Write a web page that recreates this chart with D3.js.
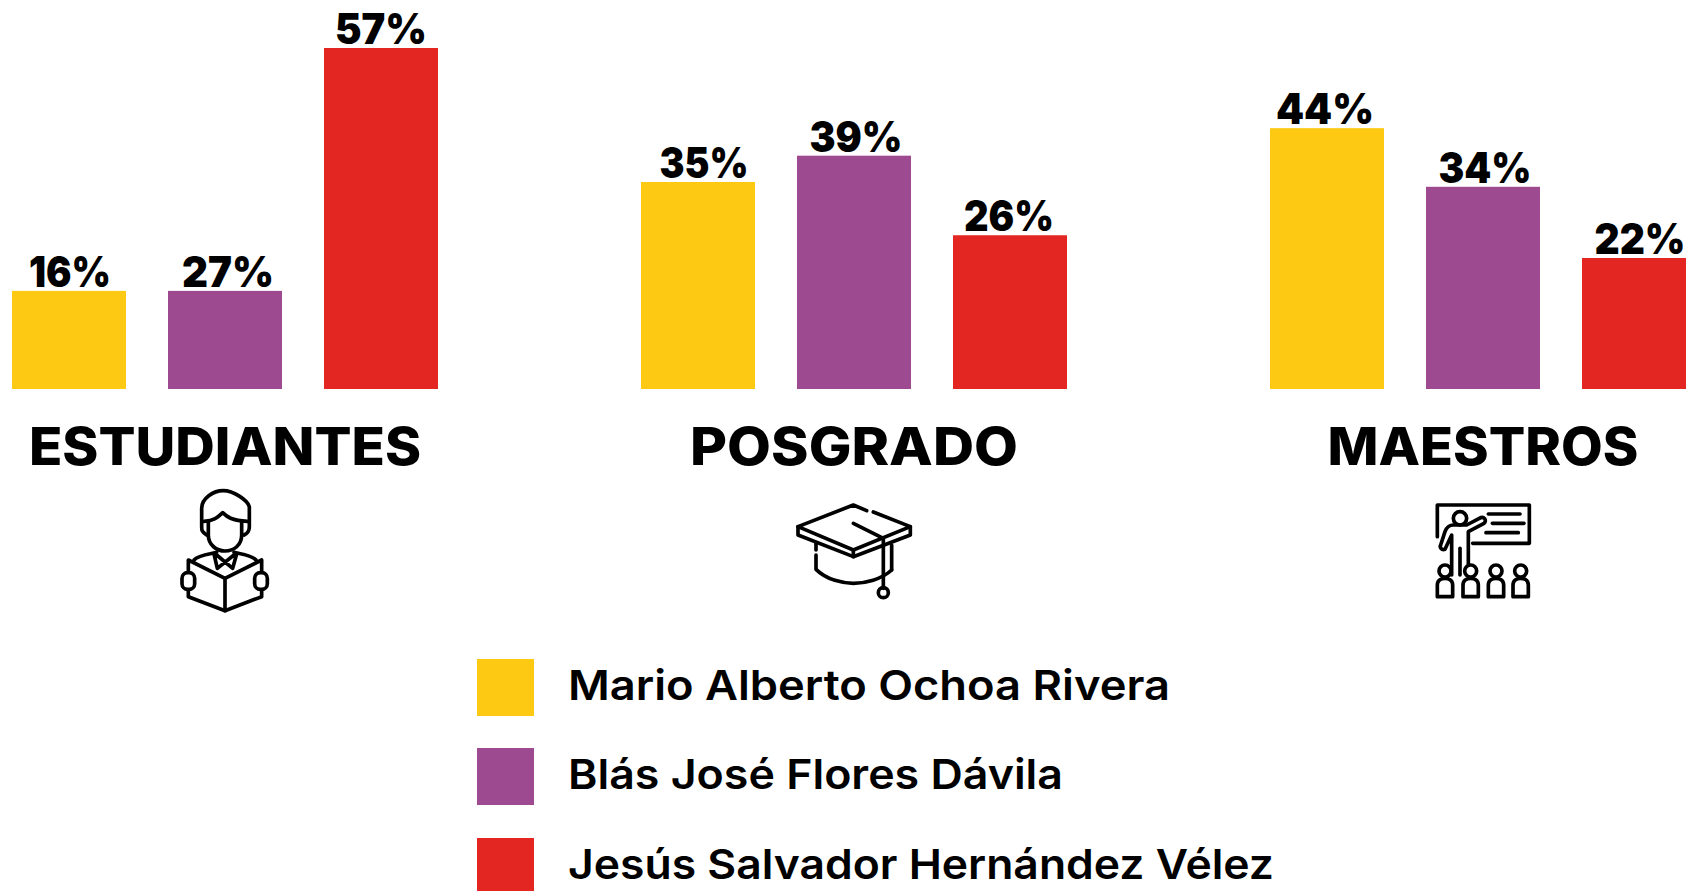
<!DOCTYPE html>
<html>
<head>
<meta charset="utf-8">
<script src="https://cdn.jsdelivr.net/npm/d3@7"></script>
<style>
  html, body { margin: 0; padding: 0; background: #fff; overflow: hidden; }
  text { font-family: Inter, "Noto Sans", sans-serif; fill: #000; }
</style>
</head>
<body>
<div id="chart"></div>
<script>
var categories = ["ESTUDIANTES", "POSGRADO", "MAESTROS"];
var seriesNames = ["Mario Alberto Ochoa Rivera", "Blás José Flores Dávila", "Jesús Salvador Hernández Vélez"];

// bar heights as drawn in the picture
var mario = [16.4, 34.6, 43.6];
var blas = [16.4, 39, 33.8];
var jesus = [57, 25.7, 21.9];

// labels as printed (the 27% bar is drawn the same height as the 16% one)
var marioLabels = ["16%", "35%", "44%"];
var blasLabels = ["27%", "39%", "34%"];
var jesusLabels = ["57%", "26%", "22%"];

var colors = ["#fdc913", "#9e4a91", "#e32621"];
var values = [mario, blas, jesus];
var labels = [marioLabels, blasLabels, jesusLabels];

// widths of the text in the reference, the installed fonts run narrower
var categoryWidths = [392, 328, 311];
var legendWidths = [602, 495, 706];
var labelWidths = {"16%": 82, "27%": 92, "57%": 92, "35%": 89, "39%": 93, "26%": 90, "44%": 98, "34%": 93, "22%": 91};
// the labels are not quite centred on their bars in the reference
var labelShift = {"16%": 1, "27%": 3, "57%": 0, "35%": 6, "39%": 2, "26%": -1, "44%": -2, "34%": 2, "22%": 1};

var width = 1686, height = 891;
var svg = d3.select("#chart").append("svg")
    .attr("width", width)
    .attr("height", height)
    .style("display", "block");

var x0 = d3.scaleBand().domain(categories).range([12, 12 + 629 * 3]);
var x1 = d3.scaleBand().domain(d3.range(3)).range([0, 426]).paddingInner(42 / 156);
var y = d3.scaleLinear().domain([0, 57]).range([389, 48]);
var groupCenter = function(c) { return x0(c) + 213; };

var groups = svg.selectAll(".group")
    .data(categories)
  .enter().append("g")
    .attr("class", "group")
    .attr("transform", function(c) { return "translate(" + x0(c) + ",0)"; });

groups.each(function(c, i) {
  var g = d3.select(this);
  var rows = d3.range(3).map(function(s) {
    return {s: s, value: values[s][i], label: labels[s][i]};
  });
  g.selectAll("rect")
      .data(rows)
    .enter().append("rect")
      .attr("x", function(d) { return x1(d.s); })
      .attr("y", function(d) { return y(d.value); })
      .attr("width", x1.bandwidth())
      .attr("height", function(d) { return y(0) - y(d.value); })
      .attr("fill", function(d) { return colors[d.s]; });
  g.selectAll(".value")
      .data(rows)
    .enter().append("text")
      .attr("class", "value")
      .attr("x", function(d) { return x1(d.s) + x1.bandwidth() / 2 + labelShift[d.label]; })
      .attr("y", function(d) { return y(d.value) - 4; })
      .attr("text-anchor", "middle")
      .attr("font-size", 42)
      .attr("font-weight", 900)
      .attr("textLength", function(d) { return labelWidths[d.label]; })
      .attr("lengthAdjust", "spacingAndGlyphs")
      .text(function(d) { return d.label; });
});

svg.selectAll(".category")
    .data(categories)
  .enter().append("text")
    .attr("class", "category")
    .attr("x", groupCenter)
    .attr("y", 465)
    .attr("text-anchor", "middle")
    .attr("font-size", 52)
    .attr("font-weight", 800)
    .attr("textLength", function(c, i) { return categoryWidths[i]; })
    .attr("lengthAdjust", "spacingAndGlyphs")
    .text(function(c) { return c; });

// legend
var legendY = d3.scalePoint().domain(seriesNames).range([659, 838]);
svg.selectAll(".swatch")
    .data(seriesNames)
  .enter().append("rect")
    .attr("class", "swatch")
    .attr("x", 477)
    .attr("y", function(n) { return Math.floor(legendY(n)); })
    .attr("width", 57)
    .attr("height", 57)
    .attr("fill", function(n, i) { return colors[i]; });
svg.selectAll(".legend")
    .data(seriesNames)
  .enter().append("text")
    .attr("class", "legend")
    .attr("x", 568)
    .attr("y", function(n) { return Math.floor(legendY(n)) + 41; })
    .attr("font-size", 41)
    .attr("font-weight", 600)
    .attr("textLength", function(n, i) { return legendWidths[i]; })
    .attr("lengthAdjust", "spacingAndGlyphs")
    .text(function(n) { return n; });

// icons, outlines drawn at 3x and scaled down
function icon(ox, oy) {
  return svg.append("g")
      .attr("transform", "translate(" + ox + "," + oy + ") scale(" + (1 / 3) + ")")
      .attr("fill", "none")
      .attr("stroke", "#000")
      .attr("stroke-width", 11)
      .attr("stroke-linejoin", "round")
      .attr("stroke-linecap", "round");
}
function paths(g, list) {
  g.selectAll("path").data(list).enter().append("path").attr("d", function(d) { return d; });
}

var student = icon(160, 480);
paths(student, [
  "M140 165C125 155 125 150 125 140L125 85C125 55 160 32 190 32C220 32 262 60 268 80L268 140C268 155 262 160 252 165",
  "M132 124C165 122 175 110 188 98C200 110 215 122 262 124",
  "M145 125L145 165C145 195 170 213 195 213C222 213 245 195 245 165L245 125",
  "M102 240C115 225 150 222 170 217",
  "M222 217C240 222 275 225 288 240",
  "M170 225L218 265M222 225L172 265M162 222L172 265M230 222L218 265",
  "M85 240L195 295L305 240L305 350L195 392L85 350Z",
  "M195 295L195 392"
]);
student.selectAll("rect").data([66, 284]).enter().append("rect")
    .attr("x", function(d) { return d; })
    .attr("y", 278)
    .attr("width", 38)
    .attr("height", 50)
    .attr("rx", 17)
    .attr("fill", "#fff");

var cap = icon(770, 490);
paths(cap, [
  "M290 62L250 45L84 110L250 180L421 110L310 66",
  "M84 110L84 135L250 200L421 135L421 110",
  "M250 180L250 200",
  "M250 100L340 145L340 295",
  "M365 165L365 240",
  "M138 160L138 180",
  "M138 195L138 238C170 270 220 280 250 280C285 280 335 268 365 240"
]);
cap.append("circle").attr("cx", 340).attr("cy", 308).attr("r", 15);

var teacher = icon(1410, 490);
paths(teacher, [
  "M82 140L82 45L358 45L358 160L188 160",
  "M235 72L330 72M247 100L342 100M228 128L325 128",
  "M125 255L125 135L105 178C95 182 88 172 92 165L105 125C110 112 118 105 130 105L170 105L208 85C222 76 232 92 222 100L175 125L175 255",
  "M150 175L150 255"
]);
teacher.append("circle").attr("cx", 150).attr("cy", 85).attr("r", 20);
var people = teacher.selectAll(".person").data([105, 182, 258, 332]).enter().append("g")
    .attr("class", "person")
    .attr("transform", function(d) { return "translate(" + d + ",0)"; });
people.append("circle").attr("cy", 243).attr("r", 18).attr("fill", "#fff");
people.append("path")
    .attr("d", "M-23 320L-23 285C-23 270 -10 265 0 265C10 265 23 270 23 285L23 320Z")
    .attr("fill", "#fff");
</script>
</body>
</html>
